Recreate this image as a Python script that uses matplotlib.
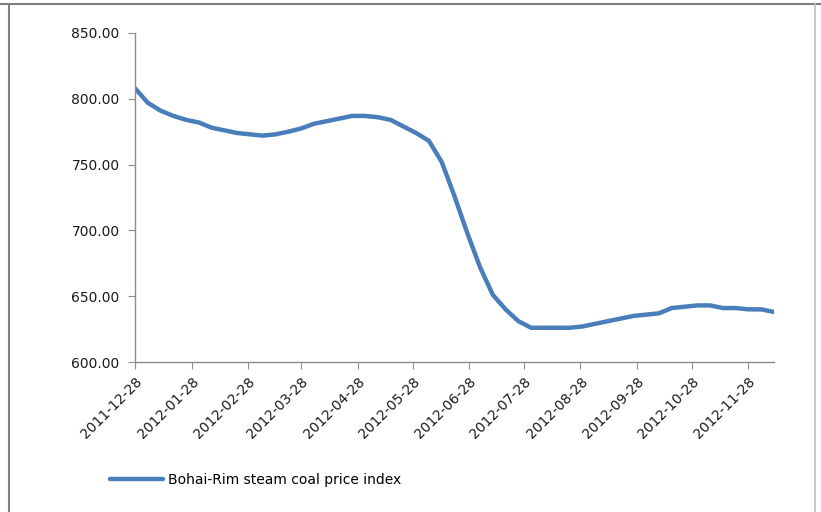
import matplotlib
matplotlib.use("Agg")
import matplotlib.pyplot as plt
import matplotlib.dates as mdates
import numpy as np
import pandas as pd

# weekly Bohai-Rim index
start_date = "2011-12-28"
prices = [808, 797, 791, 787, 784, 782, 778, 776, 774, 773,
          772, 773, 775, 777.5, 781, 783, 785, 787, 787, 786,
          784, 779, 774, 768, 752, 726, 698, 672, 651, 640,
          631, 626, 626, 626, 626, 627, 629, 631, 633, 635,
          636, 637, 641, 642, 643, 643, 641, 641, 640, 640, 638]
tick_labels = ["2011-12-28", "2012-01-28", "2012-02-28", "2012-03-28",
               "2012-04-28", "2012-05-28", "2012-06-28", "2012-07-28",
               "2012-08-28", "2012-09-28", "2012-10-28", "2012-11-28"]
y_ticks = [600, 650, 700, 750, 800, 850]
series_name = "Bohai-Rim steam coal price index"

dates = pd.date_range(start_date, periods=len(prices), freq="7D")
tick_dates = pd.to_datetime(tick_labels)

W, H = 821, 512
fig = plt.figure(figsize=(W / 100, H / 100), dpi=100)
ax = fig.add_axes([135 / W, 1 - 362 / H, (774 - 135) / W, (362 - 33) / H])

line, = ax.plot(dates, prices, color="#4A7EBB", lw=3.2, solid_capstyle="round",
                label=series_name)

ax.set_xlim(dates[0], dates[-1])
ax.set_ylim(600, 850)
ax.set_yticks(y_ticks)
ax.set_yticklabels(["%.2f" % v for v in y_ticks])
ax.set_xticks(tick_dates)
ax.set_xticklabels(tick_labels, rotation=45, ha="right", rotation_mode="anchor")

grey = "#8C8C8C"
for s in ["top", "right"]:
    ax.spines[s].set_visible(False)
for s in ["left", "bottom"]:
    ax.spines[s].set_color(grey)
    ax.spines[s].set_linewidth(1.0)
ax.tick_params(axis="both", direction="out", length=5, color=grey,
               labelsize=10, labelcolor="#1A1A1A")
ax.tick_params(axis="y", pad=6)
ax.tick_params(axis="x", pad=4)

# outer frame of the chart area
fig.add_artist(plt.Line2D([0, 1], [1 - 4 / H, 1 - 4 / H], color="#7F7F7F", lw=1.5,
                          transform=fig.transFigure))
fig.add_artist(plt.Line2D([9 / W, 9 / W], [0, 1 - 4 / H], color="#7F7F7F", lw=1.5,
                          transform=fig.transFigure))
fig.add_artist(plt.Line2D([815 / W, 815 / W], [0, 1 - 4 / H], color="#BFBFBF", lw=1.2,
                          transform=fig.transFigure))

fig.legend(handles=[line], loc="center left", bbox_to_anchor=(110 / W, 1 - 480 / H),
           frameon=False, fontsize=10, handlelength=3.8, handletextpad=0.4,
           borderpad=0, borderaxespad=0)

fig.savefig("out.png", dpi=100)
